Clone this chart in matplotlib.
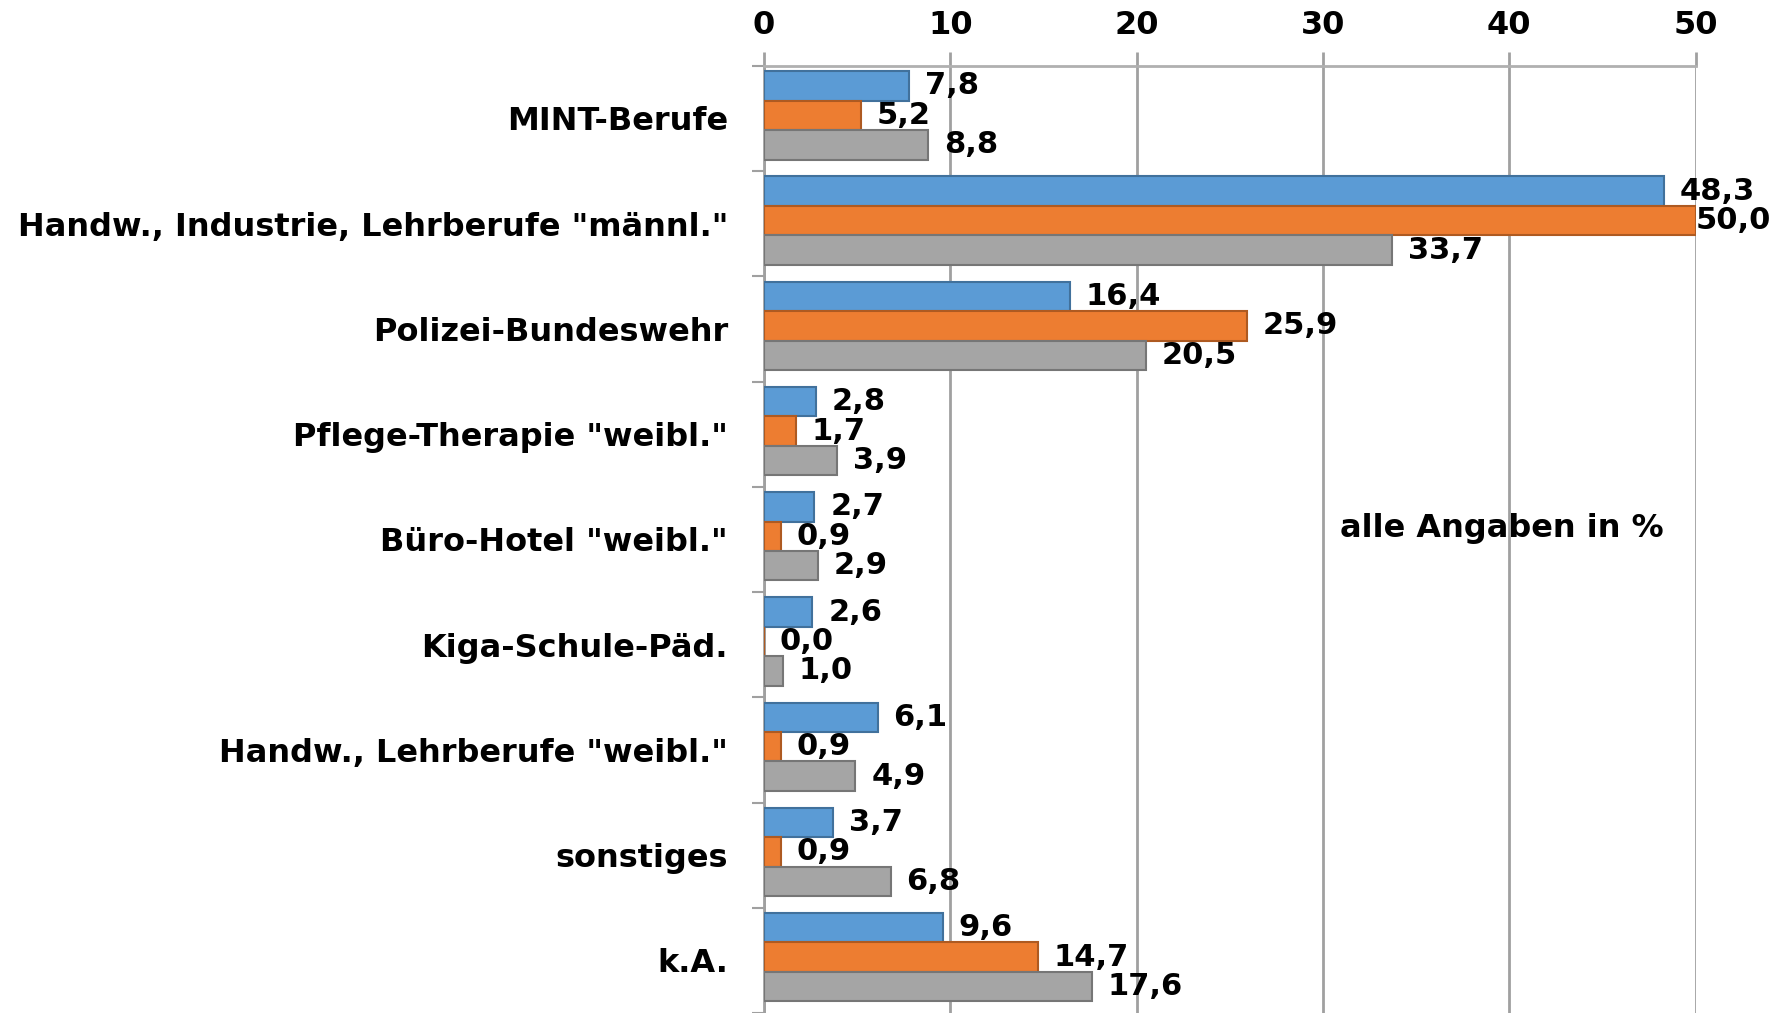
import numpy as np
import matplotlib
matplotlib.use('Agg')
import matplotlib.pyplot as plt

# ── Data ──
categories = ['MINT-Berufe',
              'Handw., Industrie, Lehrberufe "männl."',
              'Polizei-Bundeswehr',
              'Pflege-Therapie "weibl."',
              'Büro-Hotel "weibl."',
              'Kiga-Schule-Päd.',
              'Handw., Lehrberufe "weibl."',
              'sonstiges',
              'k.A.']
series_blue   = [7.8, 48.3, 16.4, 2.8, 2.7, 2.6, 6.1, 3.7, 9.6]
series_orange = [5.2, 50.0, 25.9, 1.7, 0.9, 0.0, 0.9, 0.9, 14.7]
series_gray   = [8.8, 33.7, 20.5, 3.9, 2.9, 1.0, 4.9, 6.8, 17.6]
x_ticks = [0, 10, 20, 30, 40, 50]

plt.rcParams['font.family'] = ['DejaVu Sans']

fig = plt.figure(figsize=(17.81, 10.13), dpi=100, facecolor='white')
ax = fig.add_axes([0.429, 0.0, 0.523, 0.935])

y = np.arange(len(categories))
h = 0.28
styles = [
    (series_blue,   -h, '#5B9BD5', '#41719C'),
    (series_orange,  0, '#ED7D31', '#AE5A21'),
    (series_gray,    h, '#A5A5A5', '#767676'),
]
for vals, off, col, edge in styles:
    ax.barh(y + off - 0.03, vals, height=h, color=col, edgecolor=edge,
            linewidth=1.5, zorder=3)
    for yi, v in zip(y, vals):
        # labels near the right edge get pulled in (like Excel does)
        dx = max(0.0, min(0.85, (50.0 - v) * 0.5))
        ax.text(v + dx, yi + off - 0.03, f'{v:.1f}'.replace('.', ','),
                va='center', ha='left', fontsize=22, fontweight='bold',
                color='black', zorder=4)

ax.set_xlim(0, 50)
ax.set_ylim(len(categories) - 0.5, -0.5)
ax.xaxis.tick_top()
ax.set_xticks(x_ticks)
ax.set_xticklabels([str(t) for t in x_ticks], fontsize=23, fontweight='bold')
ax.tick_params(axis='x', length=10, width=2, color='#A0A0A0', pad=8)

ax.set_yticks(y)
ax.set_yticklabels(categories, fontsize=23, fontweight='bold')
ax.tick_params(axis='y', which='major', length=0, pad=26)
ax.set_yticks(np.arange(-0.5, len(categories) + 0.5, 1), minor=True)
ax.tick_params(axis='y', which='minor', length=9, width=1.5, color='#A0A0A0')

ax.grid(axis='x', color='#A0A0A0', linewidth=2, zorder=0)
for s in ['right', 'bottom']:
    ax.spines[s].set_visible(False)
ax.spines['top'].set_color('#B0B0B0')
ax.spines['top'].set_linewidth(2)
ax.spines['left'].set_color('#A0A0A0')
ax.spines['left'].set_linewidth(2)

fig.text(0.843, 0.478, 'alle Angaben in %', ha='center', va='center',
         fontsize=23, fontweight='bold')

fig.savefig('out.png', dpi=100, facecolor='white')
